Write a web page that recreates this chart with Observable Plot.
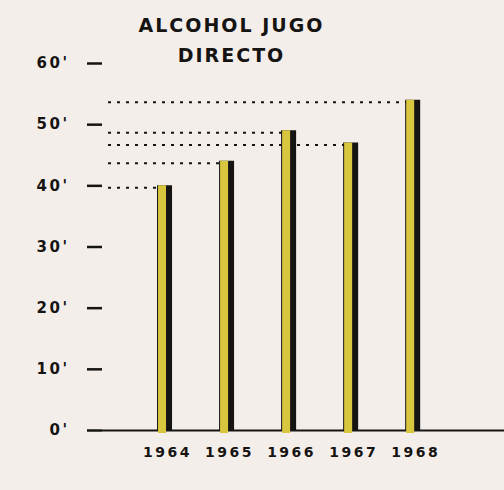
<!DOCTYPE html>
<html>
<head>
<meta charset="utf-8">
<script src="https://cdn.jsdelivr.net/npm/d3@7"></script>
<script src="https://cdn.jsdelivr.net/npm/@observablehq/plot@0.6"></script>
<style>
  html, body { margin: 0; padding: 0; background: #f4eeea; }
  #chart svg { display: block; }
</style>
</head>
<body>
<div id="chart"></div>
<script>
const years = [1964, 1965, 1966, 1967, 1968];
const values = [40, 44, 49, 47, 54];
const yTicks = [0, 10, 20, 30, 40, 50, 60];
const titleLines = ["ALCOHOL JUGO", "DIRECTO"];

const data = years.map((year, i) => ({year, value: values[i]}));

const ink = "#161412";
const yellow = "#d8c63e";

const chart = Plot.plot({
  width: 504,
  height: 490,
  marginLeft: 102,
  marginRight: 0,
  marginTop: 63,
  marginBottom: 60,
  style: {background: "#f4eeea", fontFamily: "DejaVu Sans", color: ink},
  x: {type: "linear", domain: [1963, 1969.48]},
  y: {domain: [0, 60]},
  marks: [
    // title
    Plot.text([titleLines.join("\n")], {
      text: d => d, frameAnchor: "top", lineAnchor: "bottom", dy: -2, dx: -72,
      lineHeight: 1.55, fontSize: 19, fontWeight: "bold", fill: ink
    }),
    // dotted reference lines from the axis to each bar
    Plot.ruleY(data, {y: "value", x1: 1963, x2: "year", insetLeft: 6, dy: 2, stroke: ink, strokeWidth: 2, strokeDasharray: "3,6"}),
    // baseline
    Plot.ruleY([0], {stroke: ink, strokeWidth: 2}),
    // bars: black body/shadow, yellow face
    Plot.ruleX(data, {x: "year", y1: 0, y2: "value", stroke: ink, strokeWidth: 15}),
    Plot.ruleX(data, {x: "year", y1: 0, y2: "value", stroke: yellow, strokeWidth: 8, dx: -2.5, insetTop: 3}),
    // axes
    Plot.axisY({ticks: yTicks, tickFormat: d => `${d}'`, tickSize: 15, tickPadding: 18, strokeWidth: 2.5, fontSize: 15, fontWeight: "bold", label: null, fill: ink, stroke: ink}),
    Plot.axisX({ticks: years, tickFormat: d => String(d), tickSize: 0, tickPadding: 17, fontSize: 14, fontWeight: "bold", dx: 3, label: null, fill: ink})
  ]
});

document.getElementById("chart").appendChild(chart);
const svg = d3.select(chart);
svg.selectAll('g[aria-label="y-axis tick label"] text').style("letter-spacing", "2.5px");
svg.selectAll('g[aria-label="x-axis tick label"] text').style("letter-spacing", "2.5px");
svg.selectAll('g[aria-label="text"] text').style("letter-spacing", "2px");
</script>
</body>
</html>
